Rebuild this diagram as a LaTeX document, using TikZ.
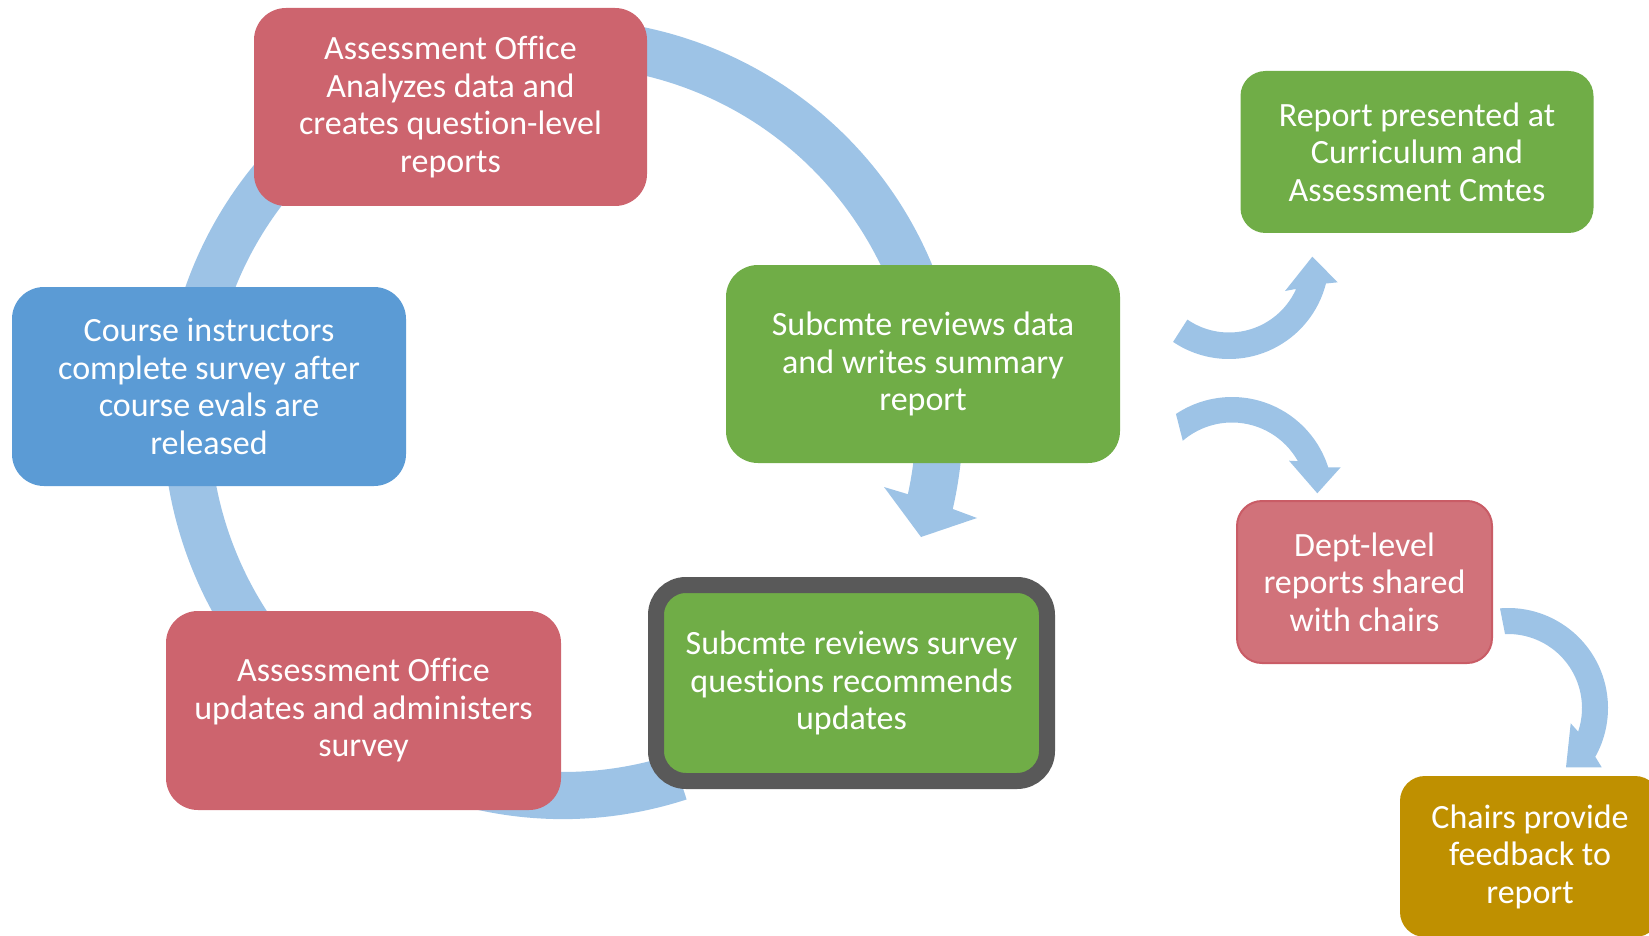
\documentclass[tikz,border=0pt]{standalone}
\usepackage{fontspec}
\setmainfont{Carlito}[Ligatures={NoCommon}]
\definecolor{ringblue}{HTML}{9DC3E6}
\definecolor{boxred}{HTML}{CD646E}
\definecolor{boxgreen}{HTML}{70AD47}
\definecolor{boxblue}{HTML}{5B9BD5}
\definecolor{boxgold}{HTML}{BF9000}
\definecolor{deptred}{HTML}{D1727A}
\definecolor{deptedge}{HTML}{C95C66}
\definecolor{edgegray}{HTML}{595959}
\begin{document}
\begin{tikzpicture}[x=1pt,y=1pt,yscale=-1,
  bigbox/.style={rectangle, rounded corners=32pt, text=white, align=center,
    inner sep=0pt, font=\fontsize{34}{37.5}\selectfont,
    minimum width=394pt, minimum height=198pt},
  smallbox/.style={rectangle, rounded corners=25pt, text=white, align=center,
    inner sep=0pt, font=\fontsize{34}{37.5}\selectfont, minimum height=162pt},
  flow/.style={fill=ringblue, draw=none}]
\useasboundingbox (0,0) rectangle (1649,936);
\clip (0,0) rectangle (1649,936);

% circular arrow behind the cycle
\fill[flow] ([shift={(563,419)}]72:400) arc[start angle=72, end angle=373, radius=400]
  -- (977,518) -- (921,537) -- (884,487)
  -- ([shift={(563,419)}]372.3:353) arc[start angle=372.3, end angle=72, radius=353] -- cycle;

% cycle steps
\node[bigbox, fill=boxred, minimum width=393pt] (analyze) at (450.5,107)
  {Assessment Office\\Analyzes data and\\creates question-level\\reports};
\node[bigbox, fill=boxgreen] (summary) at (923,364)
  {Subcmte reviews data\\and writes summary\\report};
\node[bigbox, fill=boxblue, minimum height=199pt] (instructors) at (209,386.5)
  {Course instructors\\complete survey after\\course evals are\\released};
\node[bigbox, fill=boxred, minimum width=395pt, minimum height=199pt] (administer) at (363.5,710.5)
  {Assessment Office\\updates and administers\\survey};
\node[bigbox, fill=boxgreen, draw=edgegray, line width=16pt, rounded corners=30pt,
  minimum width=391pt, minimum height=196pt] (questions) at (851.5,683)
  {Subcmte reviews survey\\questions recommends\\updates};

% reporting branch
\node[smallbox, fill=boxgreen, minimum width=353pt] (present) at (1417,152)
  {Report presented at\\Curriculum and\\Assessment Cmtes};
\node[smallbox, fill=deptred, draw=deptedge, line width=2pt, minimum width=255pt] (dept) at (1364.5,582)
  {Dept-level\\reports shared\\with chairs};
\node[smallbox, fill=boxgold, minimum width=260pt, minimum height=161pt] (chairs) at (1530,856.5)
  {Chairs provide\\feedback to\\report};

% curved arrows of the branch
\fill[flow] ([shift={(1229,259)}]124:100) arc[start angle=124, end angle=14.2, radius=100]
  -- (1337.7,282.3) -- (1312.3,256.7) -- (1285,291)
  -- ([shift={(1229,259)}]24:73.5) arc[start angle=24, end angle=124.5, radius=73.5] -- cycle;
\fill[flow] ([shift={(1232,498)}]-123.7:101) arc[start angle=-123.7, end angle=-17.7, radius=101]
  -- (1340.7,467.3) -- (1317.3,493.3) -- (1289,460.7)
  -- ([shift={(1232,498)}]-29.2:75.5) arc[start angle=-29.2, end angle=-130.7, radius=75.5] -- cycle;
\fill[flow] ([shift={(1508,708)}]-94.6:100) arc[start angle=-94.6, end angle=29.2, radius=100]
  -- (1601.7,767.3) -- (1566,767.3) -- (1570.7,723.3)
  -- ([shift={(1508,708)}]18.6:74) arc[start angle=18.6, end angle=-92.3, radius=74] -- cycle;
\end{tikzpicture}
\end{document}
